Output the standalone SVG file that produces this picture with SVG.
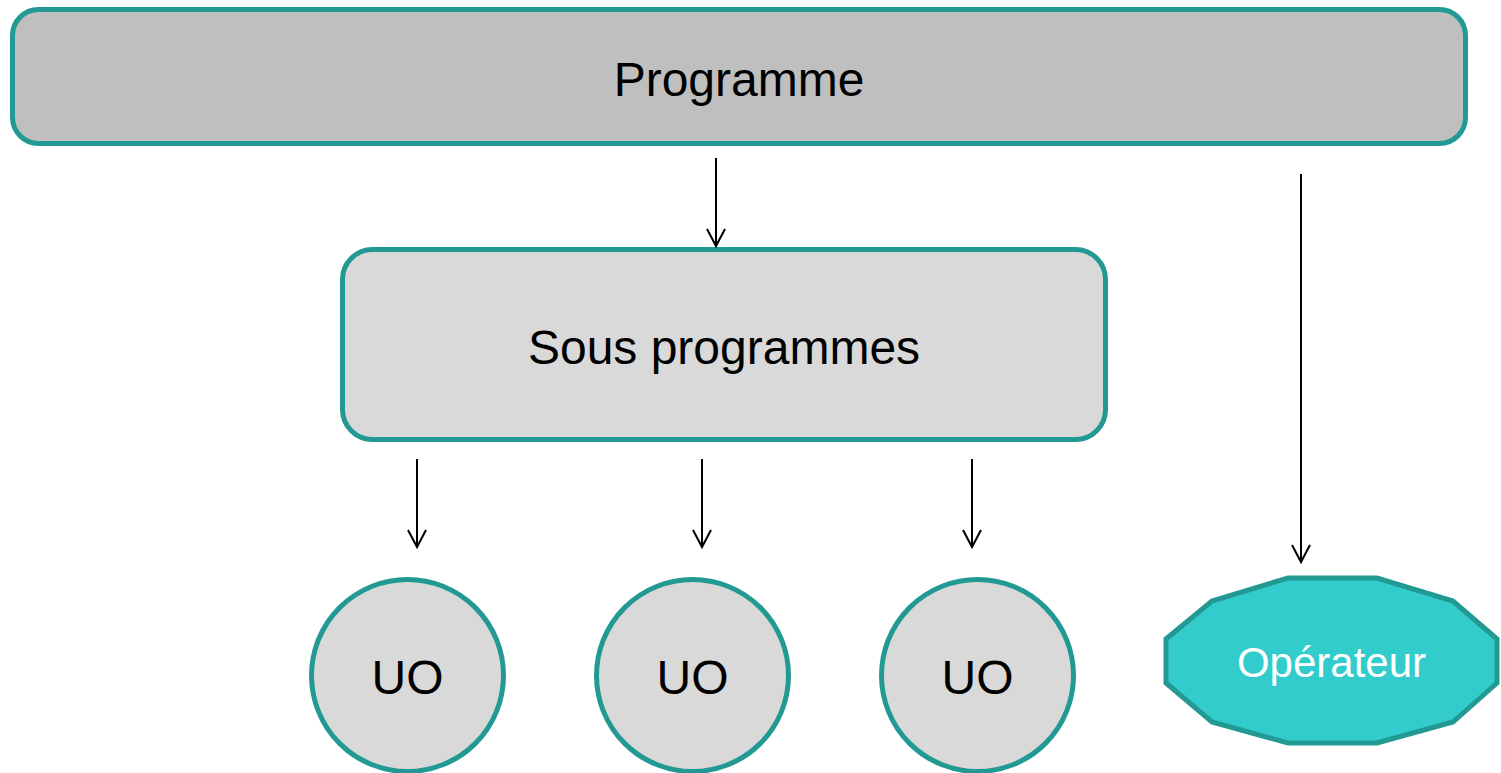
<svg xmlns="http://www.w3.org/2000/svg" width="1501" height="773" viewBox="0 0 1501 773">
<defs>
<style>
.box{fill:#d9d9d9;stroke:#229993;stroke-width:5}
.top{fill:#bfbfbf}
.op{fill:#33cccc;stroke:#229993;stroke-width:5;stroke-linejoin:miter}
.lbl{font-family:"Liberation Sans",Arial,sans-serif;font-size:48px;fill:#000;text-anchor:middle;dominant-baseline:central}
.wl{fill:#fff;font-size:42px}
.conn line{stroke:#000;stroke-width:2}
.conn path{fill:none;stroke:#000;stroke-width:2}
</style>
</defs>
<rect width="1501" height="773" fill="#fff"/>
<g id="programme">
<rect class="box top" x="12.5" y="9.5" width="1453" height="134" rx="26"/>
<text class="lbl" x="739" y="79">Programme</text>
</g>
<g id="sous-programmes">
<rect class="box" x="342.5" y="249.5" width="763" height="190" rx="30"/>
<text class="lbl" x="724" y="347">Sous programmes</text>
</g>
<g id="uo1">
<circle class="box" cx="407.5" cy="675.5" r="96"/>
<text class="lbl" x="407.5" y="677">UO</text>
</g>
<g id="uo2">
<circle class="box" cx="692.5" cy="675.5" r="96"/>
<text class="lbl" x="692.5" y="677">UO</text>
</g>
<g id="uo3">
<circle class="box" cx="977.5" cy="675.5" r="96"/>
<text class="lbl" x="977.5" y="677">UO</text>
</g>
<g id="operateur">
<polygon class="op" points="1288,578 1377,578 1453,601 1497,639 1497,683 1453,722 1377,743 1288,743 1212,722 1166,683 1166,639 1212,601"/>
<text class="lbl wl" x="1331.5" y="662">Opérateur</text>
</g>
<g class="conn" id="connectors">
<line x1="716" y1="158" x2="716" y2="246"/>
<path d="M707,229 L716,246 L725,229"/>
<line x1="1301" y1="174" x2="1301" y2="562"/>
<path d="M1292,545 L1301,562 L1310,545"/>
<line x1="417" y1="459" x2="417" y2="547"/>
<path d="M408,530 L417,547 L426,530"/>
<line x1="702" y1="459" x2="702" y2="547"/>
<path d="M693,530 L702,547 L711,530"/>
<line x1="972" y1="459" x2="972" y2="547"/>
<path d="M963,530 L972,547 L981,530"/>
</g>
</svg>
